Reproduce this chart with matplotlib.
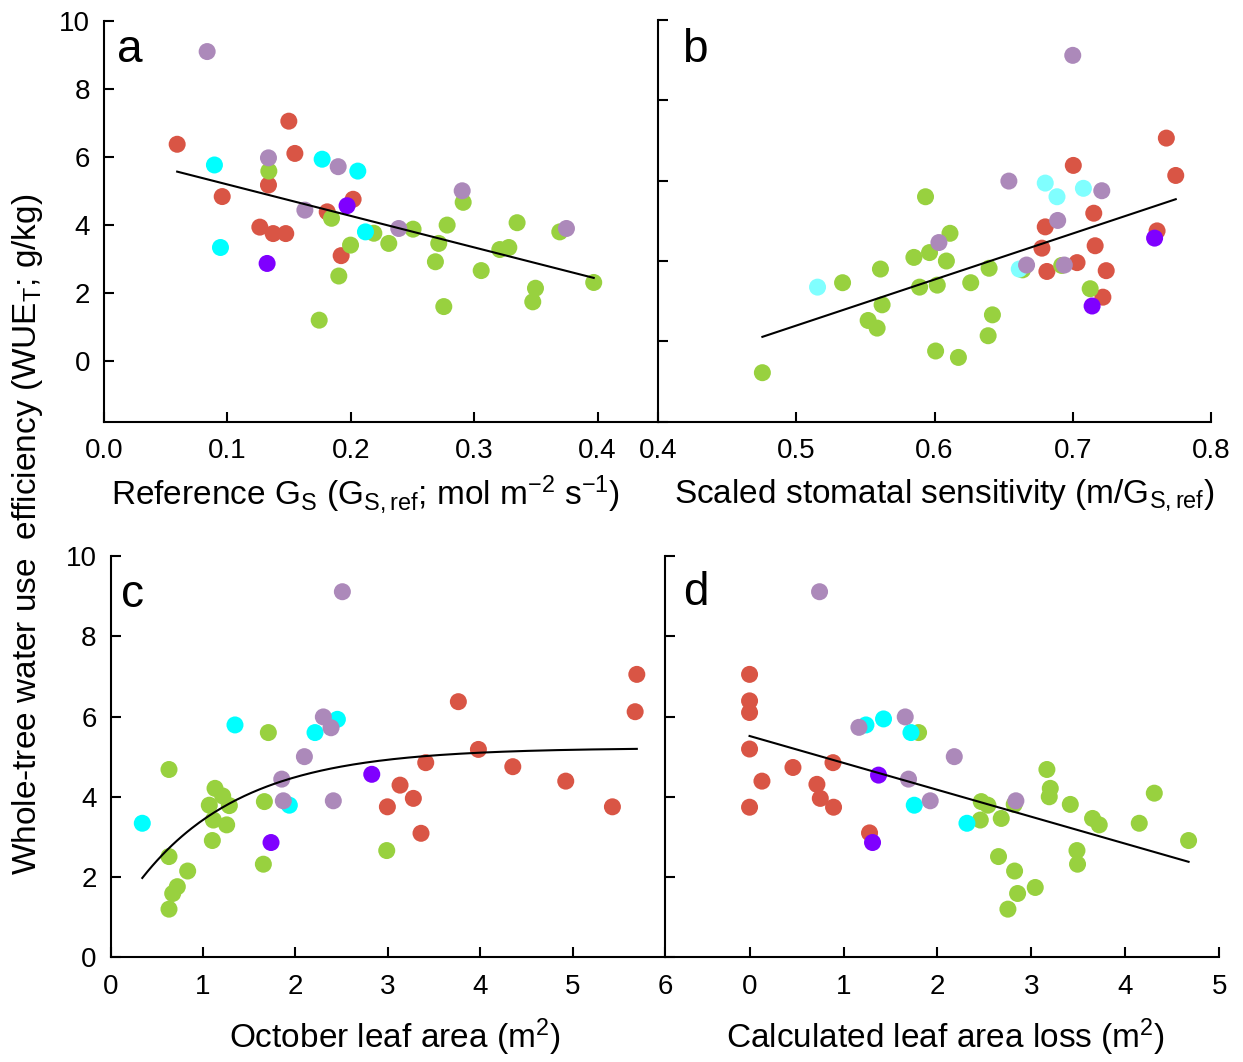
import numpy as np
import matplotlib
matplotlib.use("Agg")
import matplotlib.pyplot as plt

plt.rcParams['font.family'] = ['Liberation Sans', 'DejaVu Sans']
plt.rcParams['mathtext.fontset'] = 'custom'
plt.rcParams['mathtext.rm'] = 'Liberation Sans'
plt.rcParams['mathtext.it'] = 'Liberation Sans:italic'

# ---- data (x, y, group) ----
# groups: r = red, g = green, c = cyan, p = lavender, v = violet
a_x = [0.0593, 0.1498, 0.1547, 0.1333, 0.0958, 0.2019, 0.1809, 0.1263, 0.1371, 0.1473, 0.1922,
       0.1336, 0.1844, 0.1998, 0.1903, 0.1744, 0.2187, 0.2308, 0.2505, 0.2781, 0.2713, 0.2686,
       0.2754, 0.2911, 0.3057, 0.3348, 0.3208, 0.3281, 0.3497, 0.3475, 0.3694, 0.3969,
       0.0895, 0.1768, 0.2057, 0.0944, 0.2119,
       0.0836, 0.1333, 0.1898, 0.1628, 0.2389, 0.2903, 0.3748,
       0.1970, 0.1322]
a_y = [6.37, 7.05, 6.10, 5.17, 4.83, 4.75, 4.38, 3.93, 3.74, 3.74, 3.09,
       5.58, 4.19, 3.40, 2.49, 1.19, 3.75, 3.45, 3.87, 3.99, 3.45, 2.91,
       1.59, 4.66, 2.65, 4.06, 3.27, 3.33, 2.13, 1.73, 3.79, 2.30,
       5.76, 5.93, 5.58, 3.33, 3.79,
       9.10, 5.97, 5.71, 4.43, 3.89, 5.00, 3.89,
       4.56, 2.86]
a_grp = list("rrrrrrrrrrr" + "ggggggggggggggggggggg" + "ccccc" + "ppppppp" + "vv")

b_x = [0.7677, 0.7745, 0.7004, 0.7152, 0.6801, 0.6777, 0.7162, 0.7610, 0.7031, 0.6813, 0.7242, 0.7218,
       0.4755, 0.5335, 0.5609, 0.5621, 0.5520, 0.5585, 0.5851, 0.5964, 0.5935, 0.6086, 0.5892,
       0.6020, 0.6008, 0.6112, 0.6262, 0.6395, 0.6419, 0.6388, 0.6173, 0.6637, 0.6920, 0.7126,
       0.5154, 0.6801, 0.6886, 0.7077, 0.6613,
       0.7000, 0.6538, 0.7210, 0.6891, 0.6032, 0.6939, 0.6666,
       0.7592, 0.7140]
b_y = [7.06, 6.13, 6.38, 5.19, 4.85, 4.32, 4.38, 4.75, 3.96, 3.74, 3.76, 3.10,
       1.22, 3.46, 3.80, 2.91, 2.52, 2.33, 4.09, 4.21, 5.60, 4.00, 3.35,
       3.40, 1.76, 4.69, 3.46, 3.82, 2.66, 2.14, 1.60, 3.78, 3.89, 3.31,
       3.35, 5.94, 5.60, 5.81, 3.80,
       9.12, 5.99, 5.75, 5.01, 4.46, 3.90, 3.90,
       4.57, 2.88]
b_grp = list("rrrrrrrrrrrr" + "gggggggggggggggggggggg" + "lllll" + "ppppppp" + "vv")

c_x = [2.996, 3.133, 3.277, 3.360, 3.411, 3.764, 3.981, 4.353, 4.926, 5.431, 5.695, 5.677,
       0.633, 0.633, 0.835, 0.723, 0.673, 0.633, 1.131, 1.214, 1.069, 1.286, 1.113, 1.257,
       1.102, 1.708, 1.665, 1.654, 2.989,
       0.344, 1.347, 1.935, 2.213, 2.455,
       2.098, 1.853, 1.870, 2.303, 2.386, 2.509, 2.411,
       1.737, 2.827]
c_y = [3.75, 4.29, 3.96, 3.09, 4.85, 6.37, 5.18, 4.75, 4.39, 3.75, 7.05, 6.12,
       4.68, 2.51, 2.15, 1.76, 1.59, 1.20, 4.21, 4.02, 3.79, 3.78, 3.42, 3.30,
       2.91, 5.60, 3.88, 2.32, 2.66,
       3.34, 5.79, 3.79, 5.60, 5.93,
       5.00, 4.44, 3.90, 5.99, 5.72, 9.11, 3.90,
       2.86, 4.56]
c_grp = list("rrrrrrrrrrrr" + "ggggggggggggggggg" + "ccccc" + "ppppppp" + "vv")

d_x = [0.0, 0.0, 0.0, 0.0, 0.0, 0.132, 0.462, 0.717, 0.753, 0.894, 0.888, 1.277,
       1.799, 2.466, 2.537, 2.456, 2.679, 2.817, 2.650, 2.821, 2.853, 2.750, 3.041,
       3.165, 3.201, 3.190, 3.414, 3.485, 3.491, 3.651, 3.722, 4.148, 4.308, 4.673,
       1.239, 1.426, 1.718, 1.753, 2.314,
       0.745, 1.164, 1.657, 1.692, 1.923, 2.179, 2.835,
       1.309, 1.373]
d_y = [7.05, 6.39, 6.10, 5.19, 3.74, 4.39, 4.73, 4.31, 3.96, 3.74, 4.85, 3.10,
       5.60, 3.88, 3.79, 3.42, 3.46, 3.81, 2.51, 2.15, 1.59, 1.20, 1.74,
       4.68, 4.21, 4.00, 3.81, 2.66, 2.32, 3.46, 3.30, 3.34, 4.09, 2.91,
       5.79, 5.94, 5.60, 3.79, 3.34,
       9.11, 5.73, 5.99, 4.44, 3.90, 5.00, 3.90,
       2.86, 4.54]
d_grp = list("rrrrrrrrrrrr" + "gggggggggggggggggggggg" + "ccccc" + "ppppppp" + "vv")

# fitted curves as drawn in the figure
a_fit = (-9.27, 6.114)          # slope, intercept
b_fit = (11.46, -3.337)
c_fit = (5.22, 4.42, 0.9)       # y = A - B*exp(-k x)
d_fit = (-0.671, 5.515)

colors = {'r': '#D95545', 'g': '#98D13F', 'c': '#00FFFF', 'l': '#80FFFF',
          'p': '#AC89BA', 'v': '#7F00FF'}
draw_order = ['r', 'g', 'c', 'l', 'p', 'v']

W, H = 1243, 1062
fig = plt.figure(figsize=(W / 100, H / 100), dpi=100)


def add_ax(left, top, right, bottom):
    return fig.add_axes([left / W, 1 - bottom / H, (right - left) / W, (bottom - top) / H])


def style(ax, ylabels):
    for s in ['top', 'right']:
        ax.spines[s].set_visible(False)
    for s in ['left', 'bottom']:
        ax.spines[s].set_linewidth(1.5)
    ax.tick_params(direction='in', length=7, width=1.5, labelsize=20)
    ax.tick_params(axis='x', pad=12)
    ax.tick_params(axis='y', pad=10, labelleft=ylabels)


def scatter_groups(ax, xs, ys, grp):
    xs, ys, grp = np.array(xs), np.array(ys), np.array(grp)
    for g in draw_order:
        m = grp == g
        if m.any():
            ax.scatter(xs[m], ys[m], s=150, color=colors[g], edgecolors='none', zorder=2)


def xlabel_at(ax, text, cx, cy):
    # place label centre at figure pixel position
    ax.set_xlabel(text, fontsize=24)
    inv = ax.transAxes.inverted()
    fx, fy = inv.transform(fig.transFigure.transform((cx / W, 1 - cy / H)))
    ax.xaxis.set_label_coords(fx, fy)
    ax.xaxis.label.set_va('center')


# panel a
ax = add_ax(104, 21, 658, 421.7)
scatter_groups(ax, a_x, a_y, a_grp)
xx = np.array([min(a_x), max(a_x)])
ax.plot(xx, a_fit[0] * xx + a_fit[1], color='black', lw=1.5, zorder=3)
ax.set_xlim(0, 0.449)
ax.set_ylim(-1.8, 10)
ax.set_xticks([0.0, 0.1, 0.2, 0.3, 0.4])
ax.set_xticklabels(['0.0', '0.1', '0.2', '0.3', '0.4'])
ax.set_yticks([0, 2, 4, 6, 8, 10])
style(ax, True)
xlabel_at(ax, r'Reference G$_\mathrm{S}$ (G$_\mathrm{S,ref}$; mol m$^{-2}$ s$^{-1}$)', 365, 495)
ax.text(117 / W, 1 - 62 / H, 'a', transform=fig.transFigure, fontsize=33, va='baseline')

# panel b
ax = add_ax(658, 20, 1211, 421.7)
scatter_groups(ax, b_x, b_y, b_grp)
xx = np.array([min(b_x), max(b_x)])
ax.plot(xx, b_fit[0] * xx + b_fit[1], color='black', lw=1.5, zorder=3)
ax.set_xlim(0.4, 0.8)
ax.set_ylim(0, 10)
ax.set_xticks([0.4, 0.5, 0.6, 0.7, 0.8])
ax.set_xticklabels(['0.4', '0.5', '0.6', '0.7', '0.8'])
ax.set_yticks([0, 2, 4, 6, 8, 10])
style(ax, False)
xlabel_at(ax, r'Scaled stomatal sensitivity (m/G$_\mathrm{S,ref}$)', 944, 495)
ax.text(682 / W, 1 - 62 / H, 'b', transform=fig.transFigure, fontsize=33, va='baseline')

# panel c
ax = add_ax(110.5, 556, 665, 957.3)
scatter_groups(ax, c_x, c_y, c_grp)
xx = np.linspace(min(c_x), max(c_x), 200)
ax.plot(xx, c_fit[0] - c_fit[1] * np.exp(-c_fit[2] * xx), color='black', lw=1.5, zorder=3)
ax.set_xlim(0, 6)
ax.set_ylim(0, 10)
ax.set_xticks(range(0, 7))
ax.set_yticks([0, 2, 4, 6, 8, 10])
style(ax, True)
xlabel_at(ax, r'October leaf area (m$^2$)', 395, 1037)
ax.text(121 / W, 1 - 607 / H, 'c', transform=fig.transFigure, fontsize=33, va='baseline')

# panel d
ax = add_ax(665, 556, 1219.3, 957.3)
scatter_groups(ax, d_x, d_y, d_grp)
xx = np.array([min(d_x), max(d_x)])
ax.plot(xx, d_fit[0] * xx + d_fit[1], color='black', lw=1.5, zorder=3)
ax.set_xlim(-0.9, 5)
ax.set_ylim(0, 10)
ax.set_xticks(range(0, 6))
ax.set_yticks([0, 2, 4, 6, 8, 10])
style(ax, False)
xlabel_at(ax, r'Calculated leaf area loss (m$^2$)', 946, 1037)
ax.text(683 / W, 1 - 605 / H, 'd', transform=fig.transFigure, fontsize=33, va='baseline')

fig.text(28 / W, 1 - 534 / H, r'Whole-tree water use  efficiency (WUE$_\mathrm{T}$; g/kg)',
         rotation=90, fontsize=24, ha='center', va='center')

fig.savefig('out.png', dpi=100)
